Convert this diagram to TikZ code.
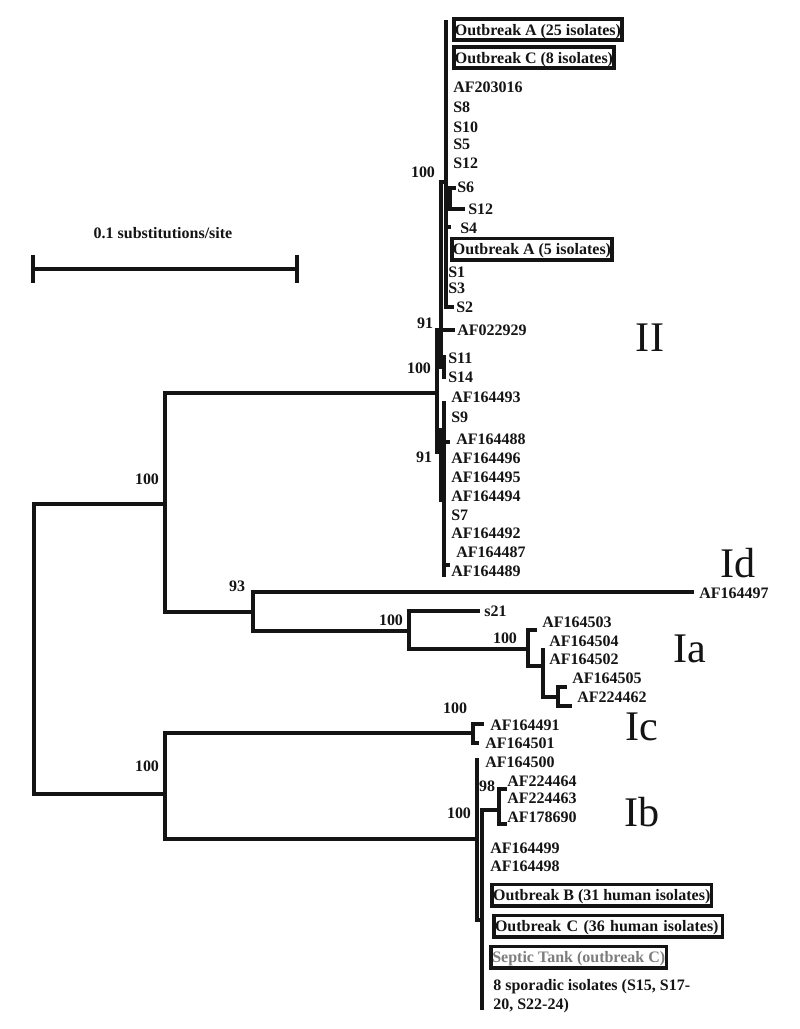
\documentclass[tikz,border=0pt]{standalone}
\usepackage{fontspec}
\setmainfont{Liberation Serif}
\definecolor{ink}{RGB}{20,20,20}
\definecolor{tankgrey}{RGB}{125,125,125}
\newcommand{\leaffont}{\fontsize{9.1}{10.8}\selectfont\bfseries}
\newcommand{\cladefont}{\fontsize{24}{28}\selectfont}
\tikzset{
  branch/.style={draw=ink,line width=2.2pt,line cap=rect,line join=miter},
  leaf/.style={anchor=west,inner sep=0pt,font=\leaffont,text=ink,
    text height=1.45ex,text depth=0pt},
  boot/.style={inner sep=0pt,font=\leaffont,text=ink,text height=1.45ex,text depth=0pt},
  clade/.style={inner sep=0pt,font=\cladefont,text=ink,text depth=0pt},
  outbox/.style={draw=ink,line width=2pt,anchor=west,inner xsep=0.6pt,inner ysep=0pt,
    minimum height=0.43cm,minimum width=#1,font=\leaffont,text=ink,
    text height=1.45ex,text depth=0pt},
  outbox/.default=3cm,
}

\begin{document}
\begin{tikzpicture}[x=0.02cm,y=-0.02cm]
  \useasboundingbox (0,0) rectangle (800,1029);

  % scale bar
  \coordinate (sbL) at (33,269);
  \coordinate (sbR) at (297,269);
  \draw[branch] (sbL) -- (sbR);
  \draw[branch] (sbL) ++(0,-12) -- ++(0,24);
  \draw[branch] (sbR) ++(0,-12) -- ++(0,24);
  \node[boot] (scale) at (163,233) {0.1 substitutions/site};

  % internal nodes
  \coordinate (root) at (34,649);
  \coordinate (nUp) at (165,504);
  \coordinate (nLo) at (165,794);
  \coordinate (nII) at (437,393);
  \coordinate (n93) at (253,612);
  \coordinate (nS21) at (409,631);
  \coordinate (nIa) at (528,649);
  \coordinate (nIa2) at (543,666);
  \coordinate (nIa3) at (558,697);
  \coordinate (nIc) at (473,733);
  \coordinate (nIb) at (477,839);
  \coordinate (nIb2) at (482,920);
  \coordinate (n98) at (499,810);
  \coordinate (n91a) at (441,330);
  \coordinate (n100a) at (446,182);
  \coordinate (nS6) at (450,198);
  \coordinate (n100s) at (444,367);
  \coordinate (n91b) at (441,452);
  \coordinate (nLow) at (444,430);

  % branch tips
  \coordinate (tId) at (692,592);
  \coordinate (tS21) at (478,611);
  \coordinate (t503) at (535,630);
  \coordinate (t504) at (543,650);
  \coordinate (t505) at (565,687);
  \coordinate (t462) at (570,706);
  \coordinate (t491) at (482,724);
  \coordinate (t501) at (477,743);
  \coordinate (t500) at (477,760);
  \coordinate (t464) at (505,789);
  \coordinate (t178) at (505,824);
  \coordinate (tSpor) at (482,1008);
  \coordinate (tTop) at (446,22);
  \coordinate (tMid) at (446,300);
  \coordinate (tS6) at (454,188);
  \coordinate (tS12) at (463,209);
  \coordinate (tS4) at (449,227);
  \coordinate (tS2) at (452,307);
  \coordinate (t929) at (453,330);
  \coordinate (tS11) at (444,357);
  \coordinate (tS14) at (444,377);
  \coordinate (tB) at (444,500);
  \coordinate (tLowT) at (444,403);
  \coordinate (tLowB) at (444,575);
  \coordinate (t488) at (448,442);
  \coordinate (t487) at (448,565);

  \foreach \a/\b in {root/nUp,root/nLo,nUp/nII,nUp/n93,n93/tId,n93/nS21,
      nS21/tS21,nS21/nIa,nIa/t503,nIa/nIa2,nIa2/t504,nIa2/nIa3,nIa3/t505,nIa3/t462,
      nLo/nIc,nLo/nIb,nIc/t491,nIc/t501,nIb/t500,nIb/nIb2,nIb2/n98,nIb2/tSpor,
      n98/t464,n98/t178,nII/n91a,nII/n91b,n91a/n100a,n91a/t929,n91a/n100s,
      n100a/tTop,n100a/tMid,n100a/nS6,n100a/tS4,n100a/tS2,nS6/tS6,nS6/tS12,
      n100s/tS11,n100s/tS14,n91b/nLow,n91b/tB,nLow/tLowT,nLow/tLowB,
      nLow/t488,nLow/t487}
    \draw[branch] (\a) |- (\b);

  % bootstrap values
  \node[boot] (bs1) at (423,172) {100};
  \node[boot] (bs2) at (425,323) {91};
  \node[boot] (bs3) at (419,368) {100};
  \node[boot] (bs4) at (424,457) {91};
  \node[boot] (bs5) at (147,479) {100};
  \node[boot] (bs6) at (237,586) {93};
  \node[boot] (bs7) at (391,620) {100};
  \node[boot] (bs8) at (505,638) {100};
  \node[boot] (bs9) at (455,708) {100};
  \node[boot] (bs10) at (147,766) {100};
  \node[boot] (bs11) at (487,786) {98};
  \node[boot] (bs12) at (459,813) {100};

  % clade II
  \node[outbox=3.36cm] (obA25) at (452,29.5) {Outbreak A (25 isolates)};
  \node[outbox=3.18cm] (obC8) at (452,57.5) {Outbreak C (8 isolates)};
  \node[outbox=3.16cm] (obA5) at (450,249) {Outbreak A (5 isolates)};
  \foreach \n/\x/\y/\t in {l203016/453/87/AF203016,lS8/453/107/S8,lS10/453/127/S10,
      lS5/453/144/S5,lS12a/453/163/S12,lS6/457/187/S6,lS12b/468/209/S12,lS4/460/228/S4,
      lS1/448/272/S1,lS3/448/288/S3,lS2/456/307/S2,l022929/457/330/AF022929,
      lS11/448/358/S11,lS14/448/377/S14,l164493/451/397/AF164493,lS9/451/417/S9,
      l164488/456/439/AF164488,l164496/451/458/AF164496,l164495/451/477/AF164495,
      l164494/451/496/AF164494,lS7/451/515/S7,l164492/451/533/AF164492,
      l164487/456/552/AF164487,l164489/451/571/AF164489}
    \node[leaf] (\n) at (\x,\y) {\t};

  % clades Id, Ia
  \foreach \n/\x/\y/\t in {l164497/699/593/AF164497,ls21/484/611/s21,
      l164503/542/622/AF164503,l164504/549/641/AF164504,l164502/549/659/AF164502,
      l164505/572/678/AF164505,l224462/577/697/AF224462}
    \node[leaf] (\n) at (\x,\y) {\t};

  % clades Ic, Ib
  \foreach \n/\x/\y/\t in {l164491/490/725/AF164491,l164501/485/743/AF164501,
      l164500/485/762/AF164500,l224464/507/781/AF224464,l224463/507/798/AF224463,
      l178690/507/817/AF178690,l164499/490/848/AF164499,l164498/490/866/AF164498}
    \node[leaf] (\n) at (\x,\y) {\t};
  \node[outbox=4.4cm] (obB31) at (490,895) {Outbreak B (31 human isolates)};
  \node[outbox=4.58cm,text width=4.53cm,align=left] (obC36) at (492,926)
    {Outbreak C (36 human isolates)};
  \node[outbox=3.52cm,text=tankgrey] (tank) at (489,957) {Septic Tank (outbreak C)};
  \node[inner sep=0pt,font=\leaffont,text=ink,align=left,anchor=north west] (spor)
    at (493,979) {8 sporadic isolates (S15, S17-\\20, S22-24)};

  % genotype labels
  \node[clade] (gII) at (650,338) {II};
  \node[clade] (gId) at (738,563) {Id};
  \node[clade] (gIa) at (690,649) {Ia};
  \node[clade] (gIc) at (642,727) {Ic};
  \node[clade] (gIb) at (642,812) {Ib};
\end{tikzpicture}
\end{document}
